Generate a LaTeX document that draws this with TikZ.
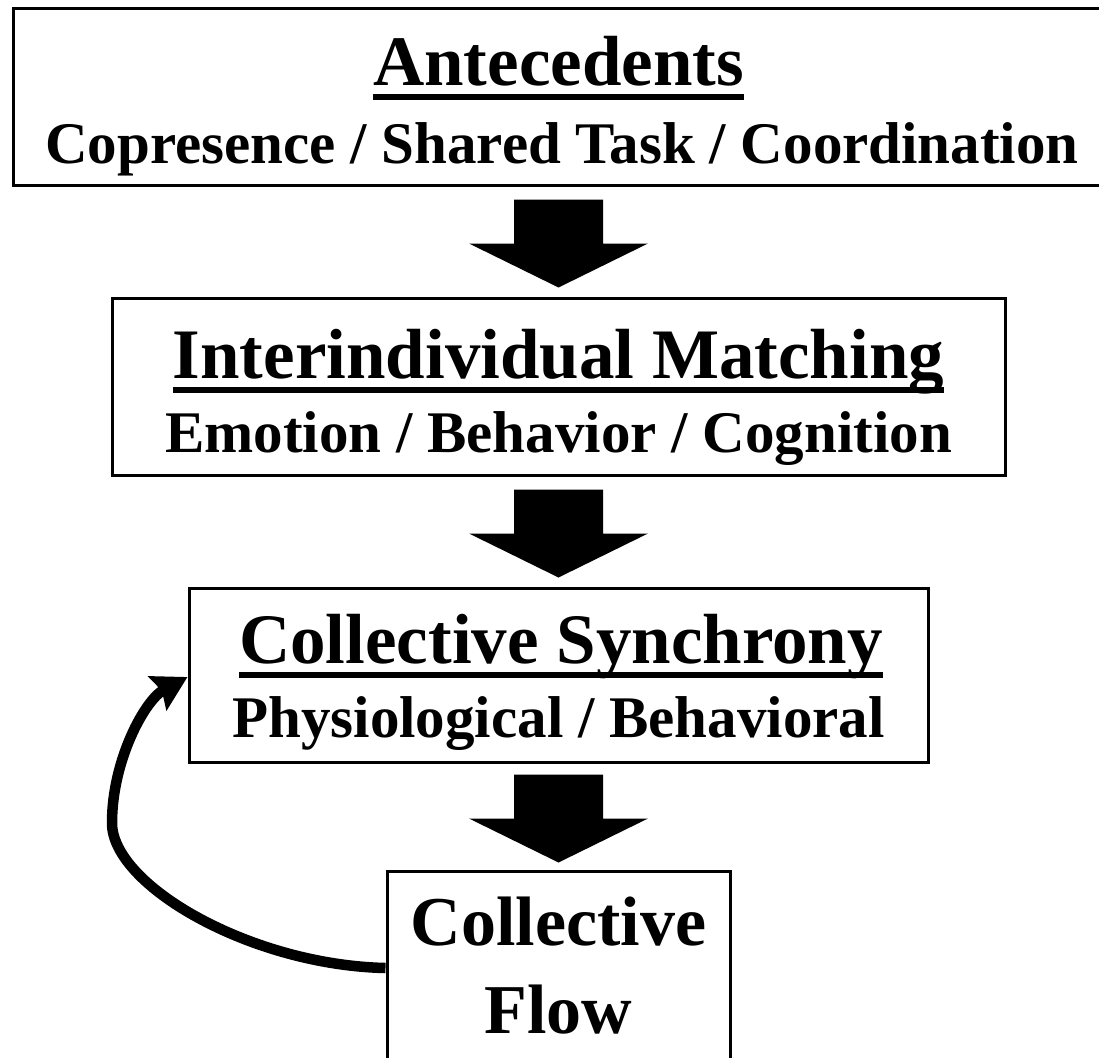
\documentclass[tikz,border=0pt]{standalone}
\usepackage{fontspec}
\setmainfont{Liberation Serif}
\usepackage{tikz}
\usetikzlibrary{positioning, arrows.meta, calc}
\tikzset{
  stagebox/.style={draw=black, line width=3pt, fill=white, inner sep=0pt},
  headtxt/.style={anchor=base, inner sep=0pt, font=\fontsize{71}{80}\selectfont\bfseries},
  subtxt/.style={anchor=base, inner sep=0pt, font=\fontsize{59}{66}\selectfont\bfseries},
  flowtxt/.style={anchor=base, inner sep=0pt, font=\fontsize{70}{80}\selectfont\bfseries},
  uline/.style={line width=5.5pt},
  looparr/.style={-{Stealth[length=34pt, width=38pt, inset=5pt]}, line width=10.5pt},
}
% block arrow pointing down, #1 = top centre of the shaft
\newcommand{\bigarrow}[1]{%
  \fill (#1) ++(-44.5,0) -- ++(0,44) -- ++(-45,0) -- ++(89.5,44)
    -- ++(89.5,-44) -- ++(-45,0) -- ++(0,-44) -- cycle;}

\begin{document}
\begin{tikzpicture}[x=1pt, y=-1pt]
  \clip (0,0) rectangle (1099,1057);
  \fill[white] (0,0) rectangle (1099,1057);

  % boxes
  \node[stagebox, minimum width=1091pt, minimum height=176pt] (anteBox) at (558.5,97) {};
  \node[stagebox, minimum width=893pt, minimum height=177pt] (matchBox) at (558.5,386.5) {};
  \node[stagebox, minimum width=739pt, minimum height=174pt] (syncBox) at (558.5,675) {};
  \node[stagebox, minimum width=343pt, minimum height=220pt] (flowBox) at (558.5,981) {};

  % texts
  \node[headtxt] (ante) at (558.5,85) {Antecedents};
  \node[subtxt] (anteSub) at (562,163) {Copresence / Shared Task / Coordination};
  \node[headtxt] (match) at (558.5,378) {Interindividual Matching};
  \node[subtxt] (matchSub) at (558.5,452) {Emotion / Behavior / Cognition};
  \node[headtxt] (sync) at (561,663) {Collective Synchrony};
  \node[subtxt] (syncSub) at (558.5,737) {Physiological / Behavioral};
  \node[flowtxt] (flowA) at (558.5,945) {Collective};
  \node[flowtxt] (flowB) at (558.5,1033) {Flow};

  % underlines
  \foreach \n in {ante, match, sync}
    \draw[uline] ([yshift=-12pt]\n.base west) -- ([yshift=-12pt]\n.base east);

  % block arrows
  \coordinate (a1) at ([yshift=-13pt]anteBox.south);
  \coordinate (a2) at ([yshift=-13pt]matchBox.south);
  \coordinate (a3) at ([yshift=-11pt]syncBox.south);
  \bigarrow{a1}
  \bigarrow{a2}
  \bigarrow{a3}

  % feedback loop
  \draw[looparr] ([yshift=13pt]flowBox.west) .. controls (250,965) and (112,885) .. (112,823)
    .. controls (112,760) and (145,700) .. ([yshift=-2pt]syncBox.west);
\end{tikzpicture}
\end{document}
